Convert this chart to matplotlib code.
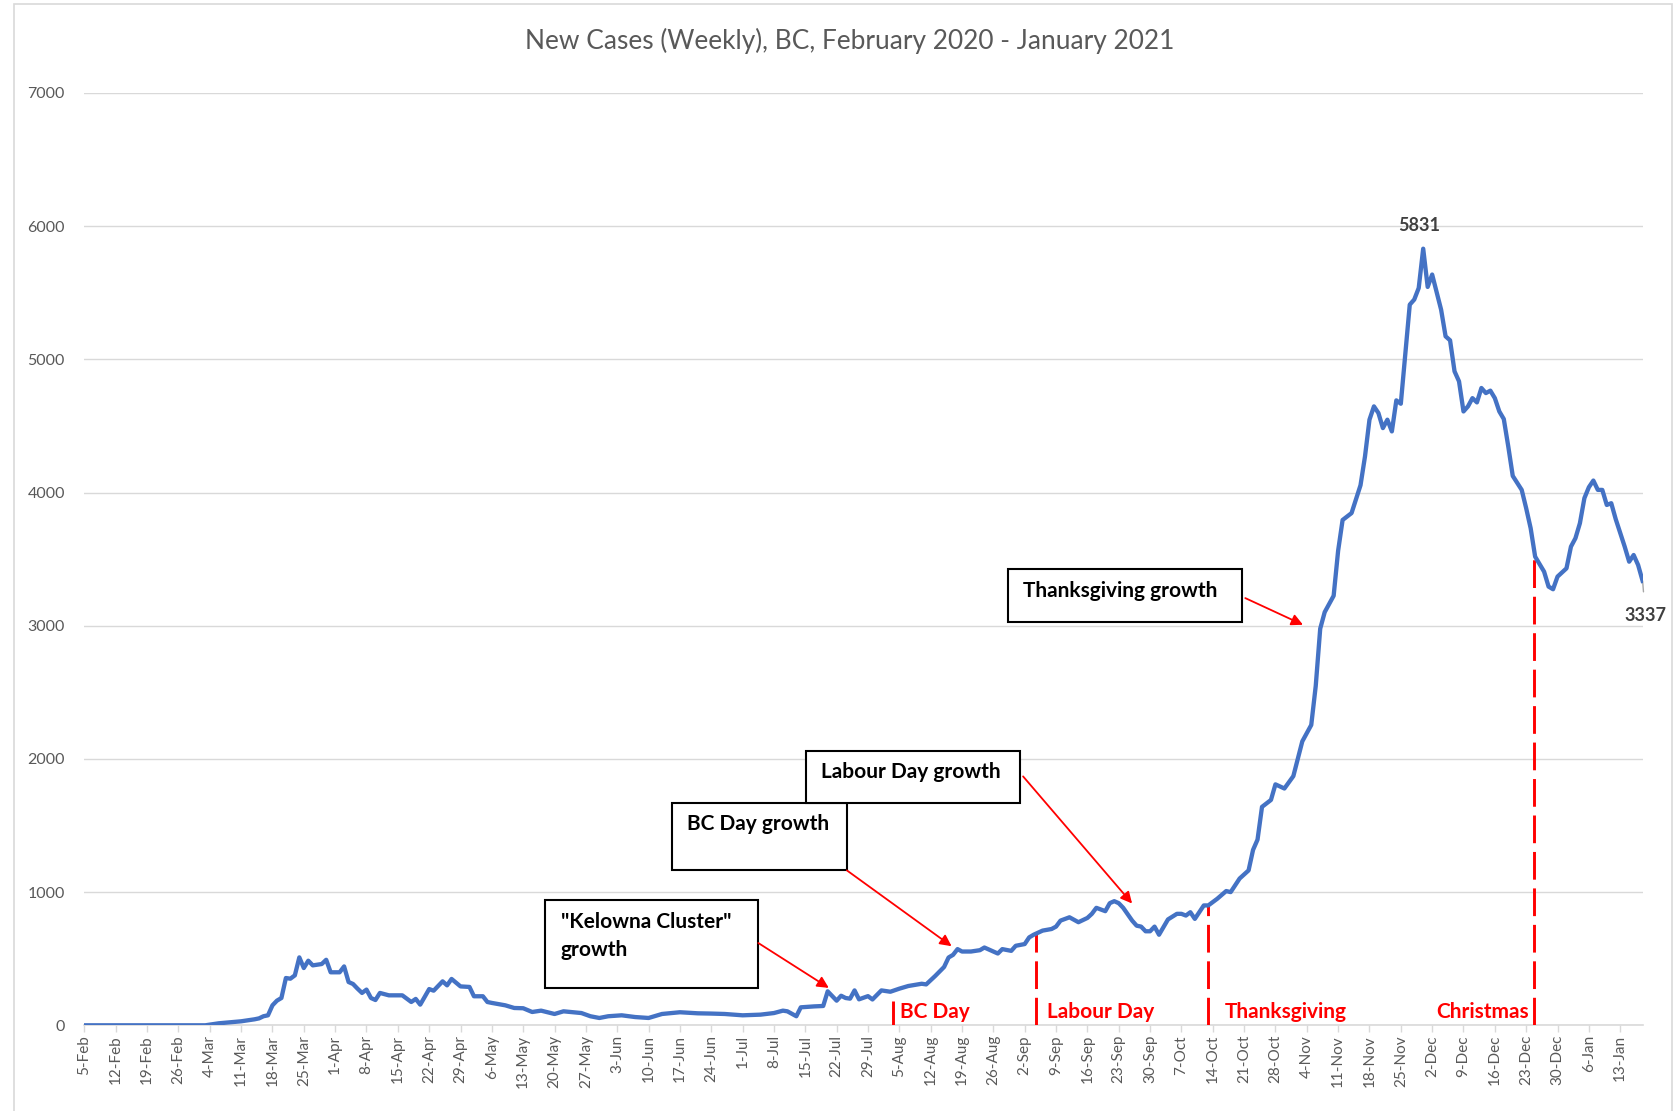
import matplotlib
matplotlib.use("Agg")
import matplotlib.pyplot as plt
import pandas as pd
from matplotlib.patches import Rectangle, FancyArrowPatch

# ---------------- data ----------------
dates = [
    "2020-02-05", "2020-03-01", "2020-03-03", "2020-03-06", "2020-03-11", "2020-03-14",
    "2020-03-15", "2020-03-16", "2020-03-17", "2020-03-18", "2020-03-19", "2020-03-20",
    "2020-03-21", "2020-03-22", "2020-03-23", "2020-03-24", "2020-03-25", "2020-03-26",
    "2020-03-27", "2020-03-29", "2020-03-30", "2020-03-31", "2020-04-02", "2020-04-03",
    "2020-04-04", "2020-04-05", "2020-04-06", "2020-04-07", "2020-04-08", "2020-04-09",
    "2020-04-10", "2020-04-11", "2020-04-13", "2020-04-16", "2020-04-18", "2020-04-19",
    "2020-04-20", "2020-04-22", "2020-04-23", "2020-04-25", "2020-04-26", "2020-04-27",
    "2020-04-29", "2020-05-01", "2020-05-02", "2020-05-04", "2020-05-05", "2020-05-06",
    "2020-05-09", "2020-05-11", "2020-05-13", "2020-05-15", "2020-05-17", "2020-05-20",
    "2020-05-22", "2020-05-26", "2020-05-28", "2020-05-30", "2020-06-01", "2020-06-04",
    "2020-06-07", "2020-06-10", "2020-06-13", "2020-06-17", "2020-06-21", "2020-06-24",
    "2020-06-27", "2020-07-01", "2020-07-05", "2020-07-08", "2020-07-10", "2020-07-11",
    "2020-07-13", "2020-07-14", "2020-07-17", "2020-07-19", "2020-07-20", "2020-07-22",
    "2020-07-23", "2020-07-24", "2020-07-25", "2020-07-26", "2020-07-27", "2020-07-29",
    "2020-07-30", "2020-08-01", "2020-08-03", "2020-08-05", "2020-08-07", "2020-08-10",
    "2020-08-11", "2020-08-13", "2020-08-15", "2020-08-16", "2020-08-17", "2020-08-18",
    "2020-08-19", "2020-08-21", "2020-08-23", "2020-08-24", "2020-08-26", "2020-08-27",
    "2020-08-28", "2020-08-30", "2020-08-31", "2020-09-02", "2020-09-03", "2020-09-04",
    "2020-09-06", "2020-09-08", "2020-09-09", "2020-09-10", "2020-09-12", "2020-09-14",
    "2020-09-16", "2020-09-17", "2020-09-18", "2020-09-20", "2020-09-21", "2020-09-22",
    "2020-09-23", "2020-09-24", "2020-09-26", "2020-09-27", "2020-09-28", "2020-09-29",
    "2020-09-30", "2020-10-01", "2020-10-02", "2020-10-04", "2020-10-06", "2020-10-07",
    "2020-10-08", "2020-10-09", "2020-10-10", "2020-10-12", "2020-10-13", "2020-10-15",
    "2020-10-17", "2020-10-18", "2020-10-20", "2020-10-22", "2020-10-23", "2020-10-24",
    "2020-10-25", "2020-10-27", "2020-10-28", "2020-10-30", "2020-11-01", "2020-11-03",
    "2020-11-05", "2020-11-06", "2020-11-07", "2020-11-08", "2020-11-10", "2020-11-11",
    "2020-11-12", "2020-11-14", "2020-11-16", "2020-11-17", "2020-11-18", "2020-11-19",
    "2020-11-20", "2020-11-21", "2020-11-22", "2020-11-23", "2020-11-24", "2020-11-25",
    "2020-11-27", "2020-11-28", "2020-11-29", "2020-11-30", "2020-12-01", "2020-12-02",
    "2020-12-04", "2020-12-05", "2020-12-06", "2020-12-07", "2020-12-08", "2020-12-09",
    "2020-12-10", "2020-12-11", "2020-12-12", "2020-12-13", "2020-12-14", "2020-12-15",
    "2020-12-16", "2020-12-17", "2020-12-18", "2020-12-19", "2020-12-20", "2020-12-22",
    "2020-12-23", "2020-12-24", "2020-12-25", "2020-12-27", "2020-12-28", "2020-12-29",
    "2020-12-30", "2021-01-01", "2021-01-02", "2021-01-03", "2021-01-04", "2021-01-05",
    "2021-01-06", "2021-01-07", "2021-01-08", "2021-01-09", "2021-01-10", "2021-01-11",
    "2021-01-12", "2021-01-14", "2021-01-15", "2021-01-16", "2021-01-17", "2021-01-18",
]
cases = [
    0, 0, 0, 15, 30, 45,
    52, 68, 75, 150, 185, 205,
    355, 350, 375, 510, 430, 485,
    450, 460, 492, 398, 398, 442,
    325, 310, 275, 243, 268, 205,
    190, 243, 225, 225, 175, 198,
    155, 272, 260, 330, 300, 348,
    292, 288, 218, 218, 175, 168,
    150, 130, 128, 100, 110, 85,
    105, 92, 68, 55, 68, 75,
    62, 55, 85, 98, 90, 88,
    85, 75, 80, 92, 110, 105,
    68, 135, 142, 145, 255, 185,
    222, 205, 200, 262, 195, 219,
    194, 262, 252, 275, 295, 312,
    307, 370, 438, 509, 529, 572,
    554, 554, 564, 584, 554, 539,
    572, 559, 597, 610, 660, 680,
    711, 723, 741, 786, 811, 774,
    806, 837, 882, 857, 917, 932,
    917, 882, 786, 748, 741, 706,
    706, 741, 680, 795, 837, 837,
    824, 849, 799, 900, 900, 950,
    1008, 1000, 1102, 1163, 1317, 1394,
    1640, 1692, 1809, 1778, 1871, 2132,
    2255, 2548, 2978, 3102, 3225, 3563,
    3794, 3846, 4055, 4271, 4547, 4647,
    4597, 4484, 4547, 4459, 4692, 4667,
    5411, 5449, 5536, 5831, 5544, 5637,
    5373, 5173, 5143, 4910, 4835, 4609,
    4647, 4709, 4677, 4785, 4747, 4765,
    4709, 4609, 4552, 4346, 4125, 4020,
    3882, 3732, 3519, 3406, 3294, 3274,
    3369, 3431, 3594, 3657, 3770, 3958,
    4040, 4090, 4020, 4020, 3907, 3920,
    3800, 3594, 3481, 3531, 3456, 3337,
]

holiday_names = ["BC Day", "Labour Day", "Thanksgiving", "Christmas"]
holiday_dates = ["2020-08-03 12:00", "2020-09-04 12:00", "2020-10-13", "2020-12-24 20:00"]
holiday_levels = [185, 690, 900, 3530]

callout_texts = ["\"Kelowna Cluster\"\ngrowth", "BC Day growth", "Labour Day growth", "Thanksgiving growth"]

y_ticks = [0, 1000, 2000, 3000, 4000, 5000, 6000, 7000]
title = "New Cases (Weekly), BC, February 2020 - January 2021"

# ---------------- figure ----------------
plt.rcParams['font.family'] = ['Lato', 'DejaVu Sans']
W, H = 1674, 1111
fig = plt.figure(figsize=(W / 100, H / 100), dpi=100)
fig.patch.set_facecolor("white")

def P(x, y):
    return (x / W, 1 - y / H)

# chart border
fig.add_artist(Rectangle(P(14, 1120), (1672 - 14) / W, (1120 - 4) / H,
                         transform=fig.transFigure, fill=False,
                         edgecolor="#D9D9D9", lw=1.2))

ax_left, ax_right, ax_top, ax_bottom = 84.4, 1642.6, 93.0, 1025.3
ax = fig.add_axes([ax_left / W, 1 - ax_bottom / H, (ax_right - ax_left) / W, (ax_bottom - ax_top) / H])

x = pd.to_datetime(dates)
x_start, x_end = pd.Timestamp("2020-02-05"), pd.Timestamp("2021-01-18")

ax.set_xlim(x_start, x_end)
ax.set_ylim(0, 7000)

ax.set_yticks(y_ticks)
ax.set_yticklabels([str(v) for v in y_ticks])
ax.yaxis.grid(True, color="#D9D9D9", lw=1.0)
ax.set_axisbelow(True)
for s in ["top", "right", "left"]:
    ax.spines[s].set_visible(False)
ax.spines["bottom"].set_color("#D9D9D9")
ax.spines["bottom"].set_linewidth(1.2)
ax.tick_params(axis="y", length=0, pad=14, labelsize=11.5, labelcolor="#595959")

tick_dates = pd.date_range(x_start, x_end, freq="7D")
ax.set_xticks(tick_dates)
ax.set_xticklabels([f"{d.day}-{d.strftime('%b')}" for d in tick_dates], rotation=90)
ax.tick_params(axis="x", length=5, width=1, color="#D9D9D9", pad=2,
               labelsize=11, labelcolor="#595959")

# holiday lines
for name, d, lvl in zip(holiday_names, holiday_dates, holiday_levels):
    ax.plot([pd.Timestamp(d), pd.Timestamp(d)], [0, lvl], color="red", lw=2.1,
            linestyle=(0, (9.5, 3)), solid_capstyle="butt", dash_capstyle="butt", zorder=3)

# main line
ax.plot(x, cases, color="#4472C4", lw=3.1, solid_joinstyle="round", zorder=4)

# data labels
peak_i = max(range(len(cases)), key=lambda i: cases[i])
ax.annotate(str(cases[peak_i]), xy=(x[peak_i], cases[peak_i]), xytext=(-3, 17),
            textcoords="offset points", ha="center", va="center",
            fontsize=13, fontweight="bold", color="#404040", annotation_clip=False)
ax.annotate(str(cases[-1]), xy=(x[-1], cases[-1]), xytext=(2, -25),
            textcoords="offset points", ha="center", va="center",
            fontsize=13, fontweight="bold", color="#404040", annotation_clip=False,
            arrowprops=dict(arrowstyle="-", color="#A6A6A6", lw=1.0, shrinkA=9, shrinkB=0))

# holiday text labels (pixel positions)
holiday_label_pos = [(900, 1012.5, "left"), (1047, 1012.5, "left"), (1225, 1012.5, "left"), (1529, 1012.5, "right")]
for name, (px, py, ha) in zip(holiday_names, holiday_label_pos):
    fig.text(*P(px, py), name, ha=ha, va="center", fontsize=15, fontweight="bold", color="red")

# callout boxes: (x0, y0, x1, y1), text anchor, arrow tail, arrow tip
boxes = [
    ((544.7, 900.3, 758.3, 987.9), (560.7, 936.5), (758.3, 943.0), (828.8, 987.9)),
    ((671.8, 803.1, 846.9, 870.4), (686.7, 824.5), (846.9, 870.4), (951.6, 946.2)),
    ((806.3, 750.8, 1019.9, 803.1), (821.3, 772.2), (1023.1, 776.4), (1132.1, 903.5)),
    ((1008.2, 569.2, 1242.1, 621.6), (1023.1, 590.6), (1245.3, 598.1), (1303.0, 624.8)),
]
for txt, ((bx0, by0, bx1, by1), (tx, ty), tail, tip) in zip(callout_texts, boxes):
    fig.add_artist(Rectangle(P(bx0, by1), (bx1 - bx0) / W, (by1 - by0) / H,
                             transform=fig.transFigure, facecolor="white",
                             edgecolor="black", lw=1.5, zorder=5))
    fig.text(*P(tx, ty), txt, ha="left", va="center", fontsize=15, fontweight="bold",
             color="black", linespacing=1.5, zorder=6)
    fig.add_artist(FancyArrowPatch(
        P(*tail), P(*tip), transform=fig.transFigure, arrowstyle="-|>",
        mutation_scale=17, color="red", lw=1.3, shrinkA=0, shrinkB=0, zorder=6))

fig.text(*P(850, 40.6), title, ha="center", va="center", fontsize=18.9, color="#595959")

fig.savefig("out.png", dpi=100, facecolor="white")
